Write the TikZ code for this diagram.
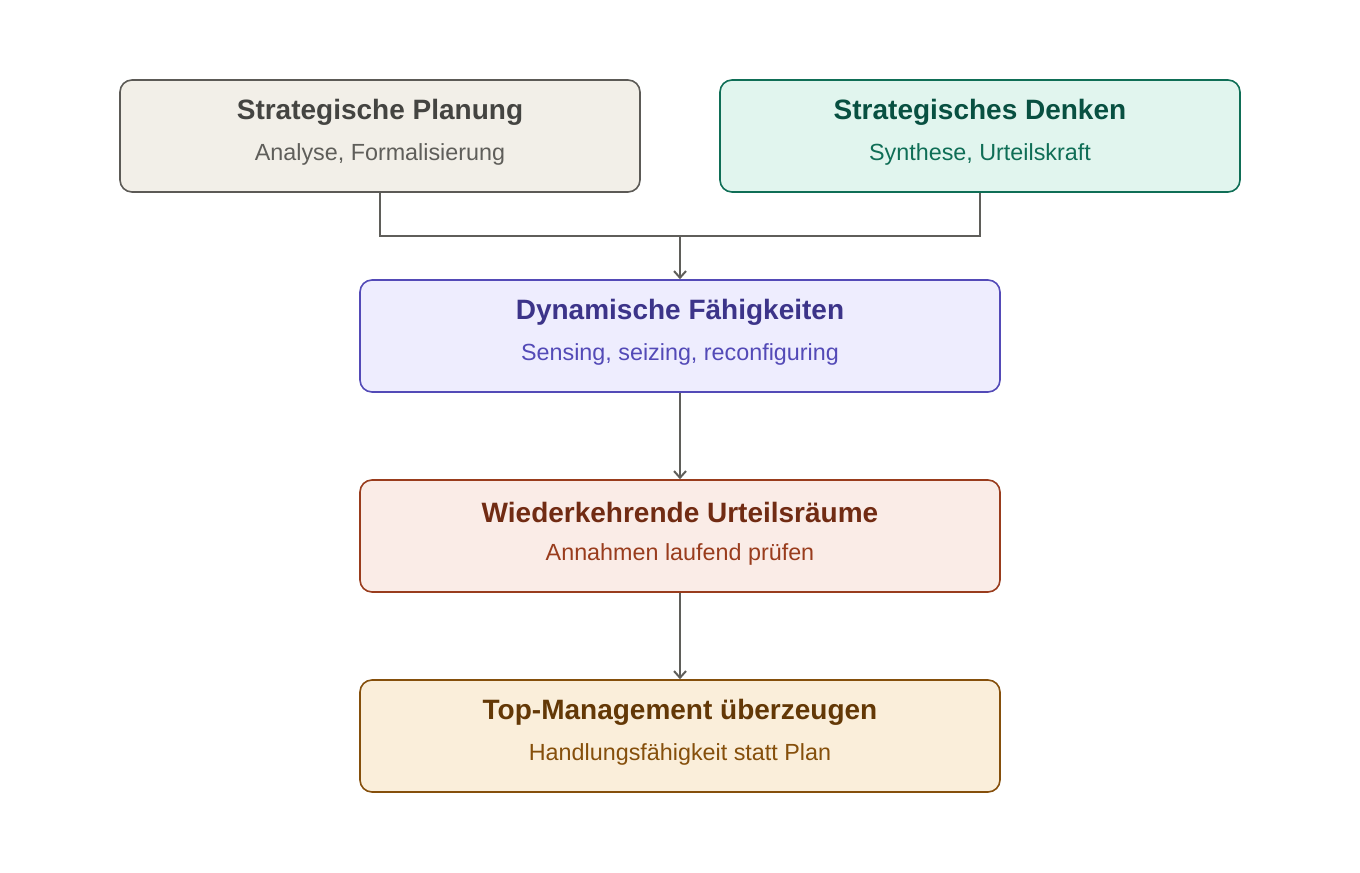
\documentclass[tikz,border=0pt]{standalone}
\usepackage{fontspec}
\setmainfont{Liberation Sans}
\usetikzlibrary{positioning,arrows.meta,calc}
\definecolor{grayfill}{HTML}{F2EFE8}\definecolor{grayline}{HTML}{5C5A56}\definecolor{graytext}{HTML}{444441}\definecolor{graysub}{HTML}{5F5E5A}
\definecolor{greenfill}{HTML}{E1F5EE}\definecolor{greenline}{HTML}{0F6E56}\definecolor{greentext}{HTML}{085041}\definecolor{greensub}{HTML}{0F6E56}
\definecolor{purplefill}{HTML}{EEEDFE}\definecolor{purpleline}{HTML}{534AB7}\definecolor{purpletext}{HTML}{3C3489}\definecolor{purplesub}{HTML}{534AB7}
\definecolor{redfill}{HTML}{FAECE7}\definecolor{redline}{HTML}{993C1D}\definecolor{redtext}{HTML}{712B13}\definecolor{redsub}{HTML}{993C1D}
\definecolor{orangefill}{HTML}{FAEEDA}\definecolor{orangeline}{HTML}{854F0B}\definecolor{orangetext}{HTML}{633806}\definecolor{orangesub}{HTML}{854F0B}
\definecolor{conn}{HTML}{5F5E5A}
\tikzset{
  box/.style n args={2}{draw=#1line, fill=#1fill, rounded corners=9pt, line width=1.2pt, minimum height=84pt, inner sep=0pt},
  title/.style={font=\bfseries\fontsize{21}{24}\selectfont},
  sub/.style={font=\fontsize{17.5}{20}\selectfont},
  arrow/.style={draw=conn, line width=1.5pt, -{Straight Barb[length=5pt,width=9pt]}},
  link/.style={draw=conn, line width=1.5pt}
}
\begin{document}
\begin{tikzpicture}[x=0.75pt,y=-0.75pt]
    \useasboundingbox (0,0) rectangle (1360,872);
    % Boxes
    \node[box={gray}{}, minimum width=390pt] (planung) at (380,136) {};
    \node[box={green}{}, minimum width=390pt] (denken) at (980,136) {};
    \node[box={purple}{}, minimum width=480pt] (dynamisch) at (680,336) {};
    \node[box={red}{}, minimum width=480pt] (urteil) at (680,536) {};
    \node[box={orange}{}, minimum width=480pt] (top) at (680,736) {};
    % Texts
    \node[title, text=graytext] (planungT) at (380,112) {Strategische Planung};
    \node[sub, text=graysub] (planungS) at (380,154) {Analyse, Formalisierung};
    \node[title, text=greentext] (denkenT) at (980,112) {Strategisches Denken};
    \node[sub, text=greensub] (denkenS) at (980,154) {Synthese, Urteilskraft};
    \node[title, text=purpletext] (dynamischT) at (680,312) {Dynamische Fähigkeiten};
    \node[sub, text=purplesub] (dynamischS) at (680,354) {Sensing, seizing, reconfiguring};
    \node[title, text=redtext] (urteilT) at (680,512) {Wiederkehrende Urteilsräume};
    \node[sub, text=redsub] (urteilS) at (680,554) {Annahmen laufend prüfen};
    \node[title, text=orangetext] (topT) at (680,712) {Top-Management überzeugen};
    \node[sub, text=orangesub] (topS) at (680,754) {Handlungsfähigkeit statt Plan};
    % Connectors
    \coordinate (merge) at (680,236);
    \draw[link] (planung.south) |- (merge) -| (denken.south);
    \draw[arrow] (merge) -- (dynamisch.north);
    \draw[arrow] (dynamisch) -- (urteil);
    \draw[arrow] (urteil) -- (top);
\end{tikzpicture}
\end{document}
